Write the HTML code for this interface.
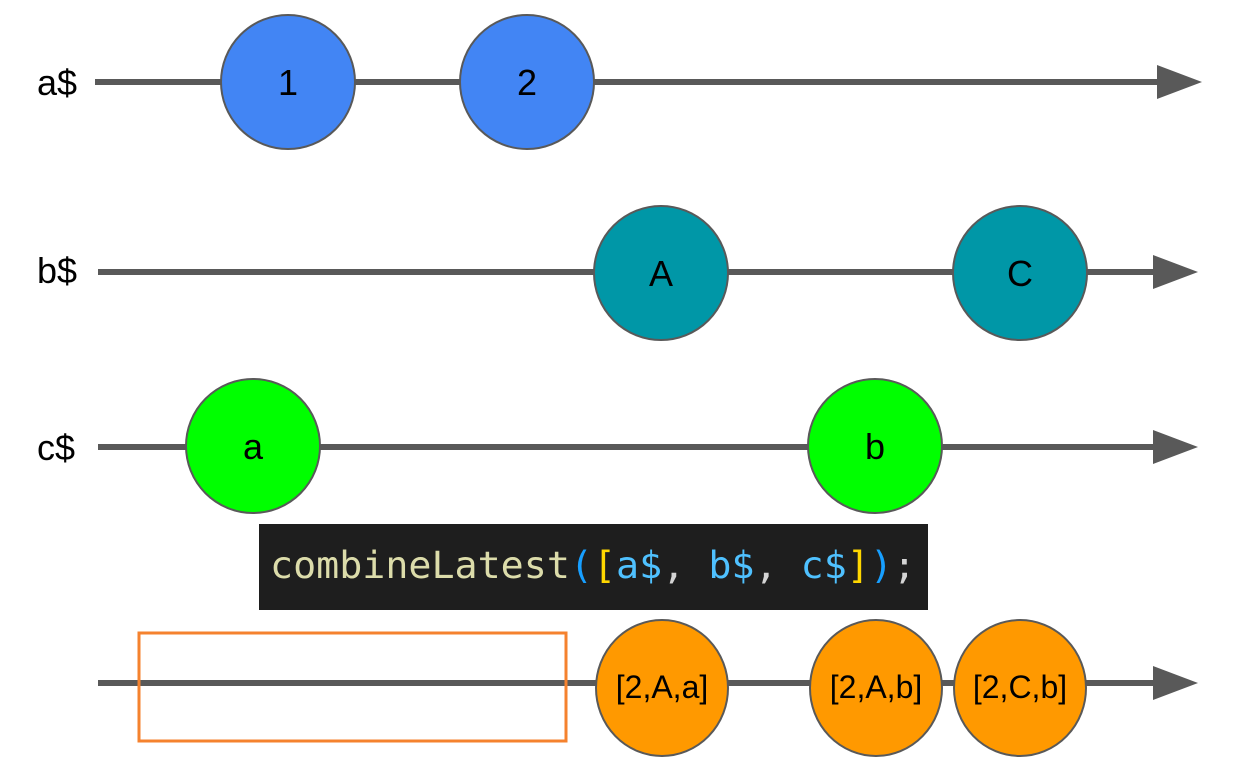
<!DOCTYPE html>
<html><head><meta charset="utf-8"><style>html,body{margin:0;padding:0;background:#fff}svg{display:block}</style></head>
<body>
<svg width="1249" height="775" viewBox="0 0 1249 775" xmlns="http://www.w3.org/2000/svg" font-family="Liberation Sans, sans-serif">
<g stroke="#595959" stroke-width="6">
<line x1="95" y1="82" x2="1165" y2="82"/>
<line x1="98" y1="272" x2="1160" y2="272"/>
<line x1="98" y1="447" x2="1160" y2="447"/>
<line x1="98" y1="683" x2="1160" y2="683"/>
</g>
<g fill="#595959">
<polygon points="1157,65 1202,82 1157,99"/>
<polygon points="1153,255 1198,272 1153,289"/>
<polygon points="1153,430 1198,447 1153,464"/>
<polygon points="1153,666 1198,683 1153,700"/>
</g>
<g font-size="36" fill="#000">
<text x="37" y="95">a$</text>
<text x="37" y="283">b$</text>
<text x="37" y="460">c$</text>
</g>
<g stroke="#595959" stroke-width="2">
<circle cx="288" cy="82" r="67" fill="#4285f4"/>
<circle cx="527" cy="82" r="67" fill="#4285f4"/>
<circle cx="661" cy="273" r="67" fill="#0097a7"/>
<circle cx="1020" cy="273" r="67" fill="#0097a7"/>
<circle cx="253" cy="446" r="67" fill="#00ff00"/>
<circle cx="875" cy="446" r="67" fill="#00ff00"/>
<ellipse cx="662" cy="688" rx="66" ry="68" fill="#ff9900"/>
<ellipse cx="876" cy="688" rx="66" ry="68" fill="#ff9900"/>
<ellipse cx="1020" cy="688" rx="66" ry="68" fill="#ff9900"/>
</g>
<g font-size="36" fill="#000" text-anchor="middle">
<text x="288" y="95">1</text>
<text x="527" y="95">2</text>
<text x="661" y="286">A</text>
<text x="1020" y="286">C</text>
<text x="253" y="459">a</text>
<text x="875" y="459">b</text>
</g>
<g font-size="32" fill="#000" text-anchor="middle">
<text x="662" y="698">[2,A,a]</text>
<text x="876" y="698">[2,A,b]</text>
<text x="1020" y="698">[2,C,b]</text>
</g>
<rect x="139" y="633" width="427" height="108" fill="none" stroke="#f5822e" stroke-width="3"/>
<rect x="259" y="524" width="669" height="86" fill="#1e1e1e"/>
<text x="270" y="578" font-family="DejaVu Sans Mono, Liberation Mono, monospace" font-size="37" textLength="646" lengthAdjust="spacingAndGlyphs"><tspan fill="#dcdcaa">combineLatest</tspan><tspan fill="#179fff">(</tspan><tspan fill="#ffd700">[</tspan><tspan fill="#4fc1ff">a$</tspan><tspan fill="#d4d4d4">, </tspan><tspan fill="#4fc1ff">b$</tspan><tspan fill="#d4d4d4">, </tspan><tspan fill="#4fc1ff">c$</tspan><tspan fill="#ffd700">]</tspan><tspan fill="#179fff">)</tspan><tspan fill="#d4d4d4">;</tspan></text>
</svg>
</body></html>
